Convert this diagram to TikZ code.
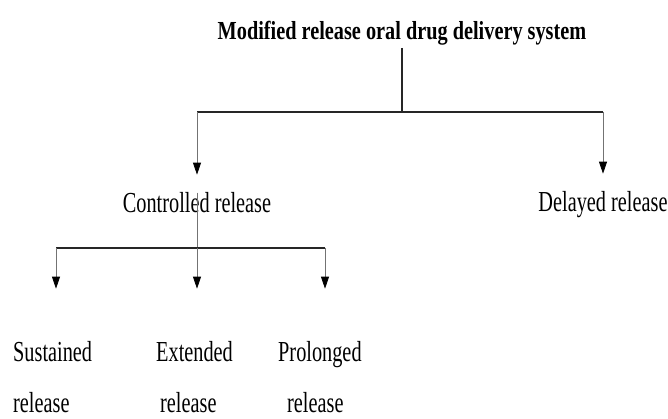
\documentclass[tikz,border=0pt]{standalone}
\usepackage{fontspec}
\setmainfont[FakeStretch=0.70]{Liberation Serif}
\newfontfamily\titlefont[FakeStretch=0.78]{Liberation Serif}
\usetikzlibrary{arrows.meta}
\begin{document}
\begin{tikzpicture}[x=1pt,y=-1pt,
  txt/.style={inner sep=0pt, font=\fontsize{29}{31}\selectfont},
  ttl/.style={inner xsep=0pt, inner ysep=2pt, font=\titlefont\bfseries\fontsize{26}{28}\selectfont},
  leaf/.style={txt, align=left, anchor=base west},
  bar/.style={draw=black!85, line width=1.3pt},
  stem/.style={draw=black!55, line width=0.8pt},
  arr/.style={stem, -{Triangle[length=12pt,width=8pt,black]}}]
\useasboundingbox (0,0) rectangle (668,419);
\fill[white] (0,0) rectangle (668,419);
% nodes
\node[ttl, anchor=base] (title) at (402,40) {Modified release oral drug delivery system};
\node[txt, anchor=base] (ctrl) at (197,213) {Controlled release};
\node[txt, anchor=base] (dly) at (603,212) {Delayed release};
\node[leaf] (sus) at (13,412) {Sustained\\[20pt]release};
\node[leaf] (ext) at (156,412) {Extended\\[20pt]\hspace*{4pt}release};
\node[leaf] (pro) at (278,412) {Prolonged\\[20pt]\hspace*{9pt}release};
% junctions
\coordinate (tj) at (402,112);
\coordinate (tl) at (197,112);
\coordinate (tr) at (603,112);
\coordinate (bj) at (197,248);
\coordinate (bl) at (56,248);
\coordinate (br) at (325,248);
% connectors
\draw[draw=black!85, line width=1.1pt] (title.south) -- (tj);
\draw[bar] (tl) -- (tr);
\draw[arr, shorten >=18pt] (tl) -- (ctrl.north);
\draw[arr, shorten >=18pt] (tr) -- (dly.north);
\draw[stem] (ctrl.north) -- (bj);
\draw[bar] (bl) -- (br);
\draw[arr, shorten >=52pt] (bl) -- (bl |- sus.north);
\draw[arr, shorten >=52pt] (bj) -- (bj |- ext.north);
\draw[arr, shorten >=52pt] (br) -- (br |- pro.north);
\end{tikzpicture}
\end{document}
